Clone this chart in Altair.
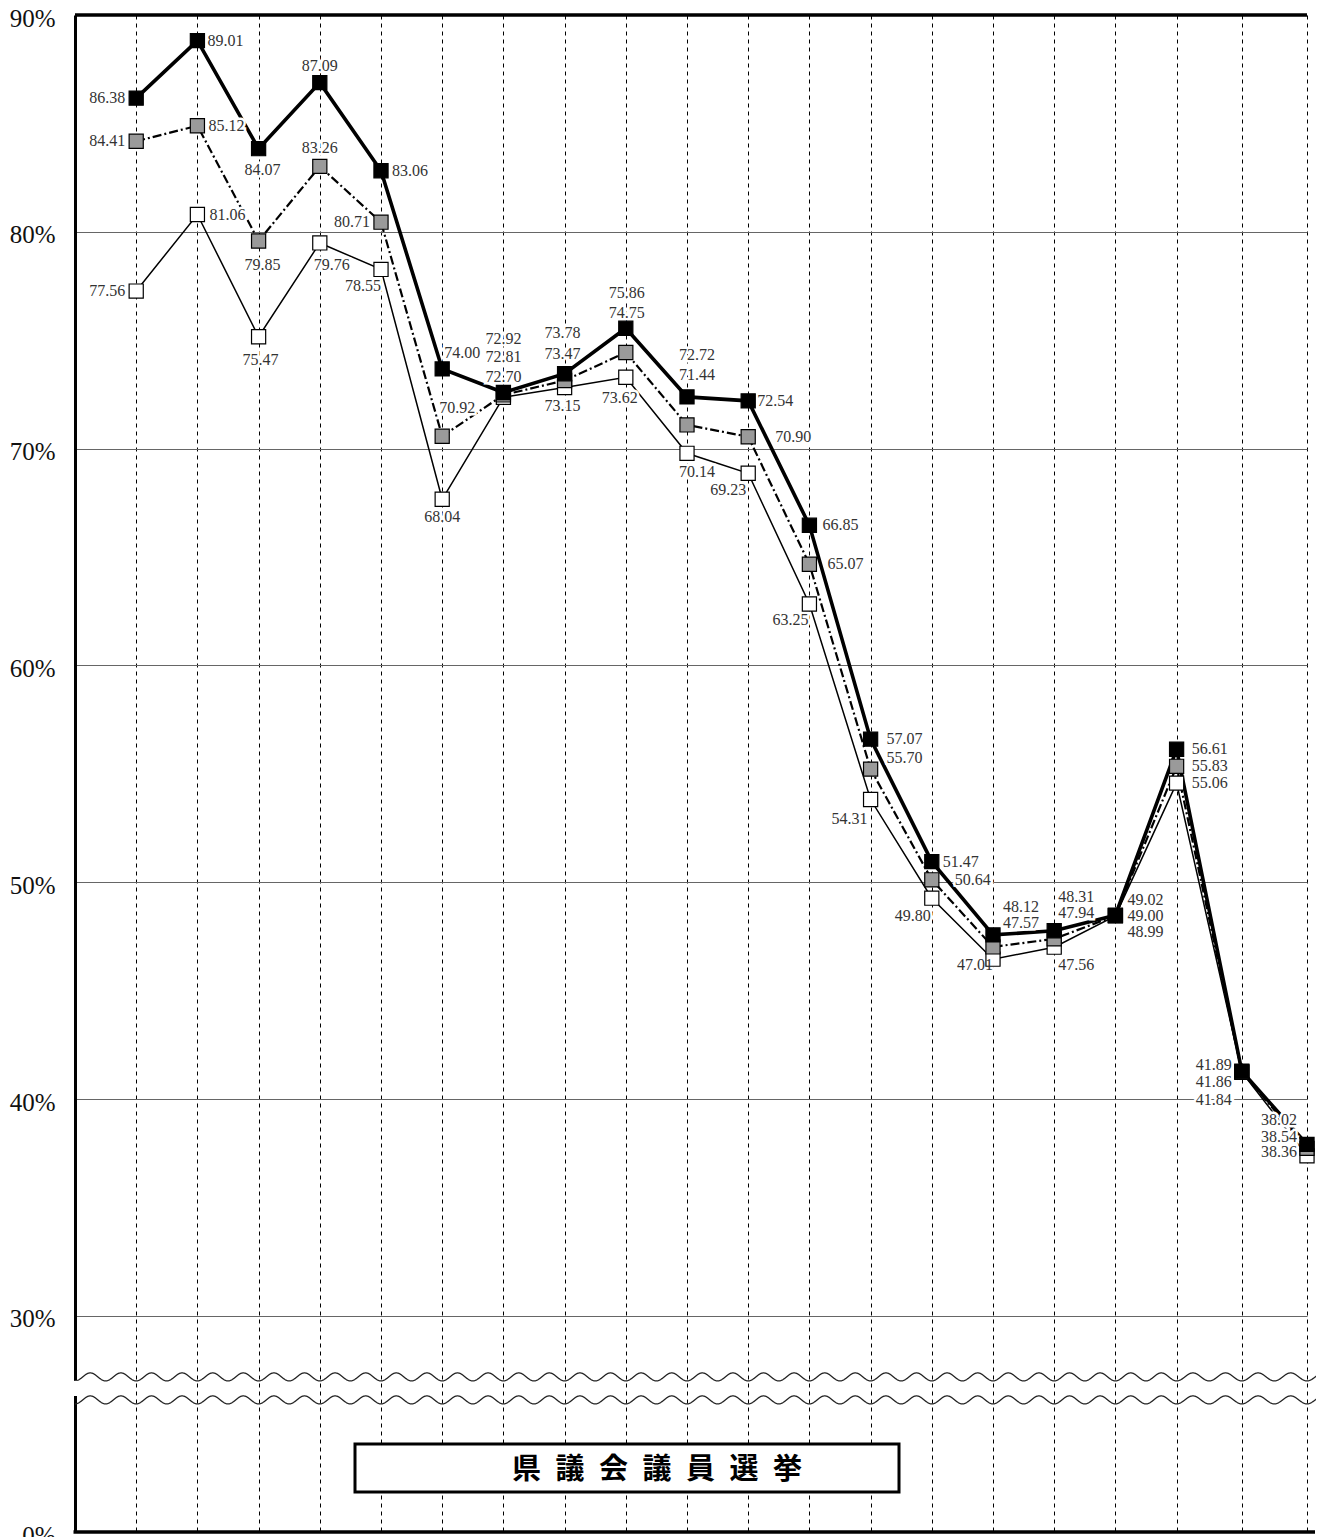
import altair as alt
import numpy as np
import pandas as pd

# ---------------- data ----------------
election_no = list(range(1, 21))          # 20 prefectural-assembly elections
series_names = ["男", "男女計", "女"]
male = [86.38, 89.01, 84.07, 87.09, 83.06, 74.00, 72.92, 73.78, 75.86, 72.72,
        72.54, 66.85, 57.07, 51.47, 48.12, 48.31, 49.02, 56.61, 41.89, 38.54]
total = [84.41, 85.12, 79.85, 83.26, 80.71, 70.92, 72.81, 73.47, 74.75, 71.44,
         70.90, 65.07, 55.70, 50.64, 47.57, 47.94, 49.00, 55.83, 41.86, 38.36]
female = [77.56, 81.06, 75.47, 79.76, 78.55, 68.04, 72.70, 73.15, 73.62, 70.14,
          69.23, 63.25, 54.31, 49.80, 47.01, 47.56, 48.99, 55.06, 41.84, 38.02]

y_ticks = [0, 30, 40, 50, 60, 70, 80, 90]
title_text = "県議会議員選挙"

# ---------------- label placement (pixel offsets from each marker) ----------------
male_dx = [-29, 28, 4, 0, 29, 20, 0, -2, 1, 10, 27, 31, 34, 29, 28, 22, 30, 31, -28, -28]
male_dy = [0, 0, 21, -17, 0, -16, -54, -41, -35, -42, 0, 0, 0, 0, -28, -34, -15, 0, -6, -7]
total_dx = [-29, 29, 4, 0, -29, 15, 0, -2, 1, 10, 45, 36, 34, 41, 28, 22, 30, 31, -28, -28]
total_dy = [0, 0, 24, -18, 0, -28, -38, -27, -40, -50, 0, 0, -11, 0, -24, -26, 0, 0, 10, 4]
female_dx = [-29, 30, 2, 12, -18, 0, 0, -2, -6, 10, -20, -19, -21, -19, -18, 22, 30, 31, -28, -28]
female_dy = [0, 0, 23, 22, 17, 18, -20, 18, 21, 19, 17, 16, 19, 18, 6, 18, 16, 0, 28, -36]

rows = []
for name, vals, dxs, dys in [("男", male, male_dx, male_dy),
                             ("男女計", total, total_dx, total_dy),
                             ("女", female, female_dx, female_dy)]:
    for i, v, dx, dy in zip(election_no, vals, dxs, dys):
        rows.append({"s": name, "i": i, "v": v, "label": f"{v:.2f}", "dx": dx, "dy": dy})
df = pd.DataFrame(rows)

# ---------------- geometry ----------------
W, H = 1232, 1517
x_scale = alt.Scale(domain=[0, 18, 20], range=[0, 1101.6, 1232], nice=False, zero=False)
grid_scale = alt.Scale(domain=[0, 25, 90], range=[H, 1409.2, 0], nice=False, zero=False)
data_scale = alt.Scale(domain=[30, 90], range=[1316.2, 4], nice=False, zero=False)

x_axis = alt.Axis(values=election_no, grid=True, gridDash=[4, 4], gridColor="black",
                  gridWidth=1, gridOpacity=1, labels=False, ticks=False, domain=False, title=None)
y_axis = alt.Axis(values=y_ticks, labelExpr="datum.value + '%'", grid=True,
                  gridColor="#666666", gridWidth=1.2, gridOpacity=1, ticks=False,
                  domain=True, domainColor="black", domainWidth=3, labelFont="Liberation Serif",
                  labelFontSize=25, labelColor="#111111", labelPadding=20, labelOffset=3,
                  title=None)

X = alt.X("x:Q", scale=x_scale, axis=x_axis)

# ---- axis-break wavy lines (decoration only) ----
wx = np.linspace(0, 20.3, 2031)
wave_df = pd.concat([
    pd.DataFrame({"x": wx, "y": 27.18 - 0.185 * np.cos(4 * np.pi * wx), "w": "a"}),
    pd.DataFrame({"x": wx, "y": 26.12 - 0.185 * np.cos(4 * np.pi * wx), "w": "b"}),
])
waves = alt.Chart(wave_df).mark_line(color="#222222", strokeWidth=1.3).encode(
    x=X, y=alt.Y("y:Q", scale=grid_scale, axis=y_axis), detail="w:N")

gap = alt.Chart(pd.DataFrame({"y1": [27.0], "y2": [26.3]})).mark_rule(
    color="white", strokeWidth=7).encode(
    x=alt.value(0), y=alt.Y("y1:Q", scale=grid_scale, axis=y_axis), y2="y2:Q")

one = pd.DataFrame({"t": [title_text]})
top_rule = alt.Chart(one).mark_rule(color="black", strokeWidth=3.5).encode(
    x=alt.value(0), x2=alt.value(W), y=alt.value(0))
bottom_rule = alt.Chart(one).mark_rule(color="black", strokeWidth=3.5).encode(
    x=alt.value(-1.5), x2=alt.value(W + 8), y=alt.value(H))
box = alt.Chart(one).mark_rect(fill="white", stroke="black", strokeWidth=3).encode(
    x=alt.value(280), x2=alt.value(824), y=alt.value(1429), y2=alt.value(1477))
title = alt.Chart(one).transform_calculate(
    tt="join(split(datum.t, ''), '\u2002')").mark_text(
    font="Noto Sans CJK JP", fontSize=29, fontWeight="bold", color="black",
    align="center", baseline="middle").encode(
    x=alt.value(582), y=alt.value(1455), text="tt:N")

grid_group = alt.layer(waves, gap, top_rule, bottom_rule, box, title)

# ---- data layers ----
Xd = alt.X("i:Q", scale=x_scale, axis=x_axis)
Yd = alt.Y("v:Q", scale=data_scale, axis=None)

def sel(name):
    return alt.Chart(df).transform_filter(alt.datum.s == name)

line_f = sel("女").mark_line(color="black", strokeWidth=1.5).encode(x=Xd, y=Yd, order="i:Q")
line_t = sel("男女計").mark_line(color="black", strokeWidth=2.2, strokeDash=[9, 3, 2, 3]).encode(
    x=Xd, y=Yd, order="i:Q")
line_m = sel("男").mark_line(color="black", strokeWidth=3.6).encode(x=Xd, y=Yd, order="i:Q")

lab = alt.Chart(df).transform_calculate(
    lx="datum.i + datum.dx / (datum.i > 18 ? 65 : 61.2)",
    ly="datum.v - datum.dy / 21.87")
LX = alt.X("lx:Q", scale=x_scale, axis=x_axis)
LY = alt.Y("ly:Q", scale=data_scale, axis=None)
halo = lab.mark_text(font="Liberation Serif", fontSize=16, fill="white", stroke="white",
                     strokeWidth=5, align="center", baseline="middle").encode(
    x=LX, y=LY, text="label:N")
texts = lab.mark_text(font="Liberation Serif", fontSize=16, color="#333333",
                      align="center", baseline="middle").encode(
    x=LX, y=LY, text="label:N")

def pts(name, fill):
    return sel(name).mark_square(filled=True, fill=fill, stroke="black", strokeWidth=1.2,
                                 size=200, opacity=1).encode(x=Xd, y=Yd)

data_group = alt.layer(line_f, line_t, line_m, halo,
                       pts("女", "white"), pts("男女計", "#9a9a9a"), pts("男", "black"),
                       texts)

chart = alt.layer(grid_group, data_group).resolve_scale(y="independent").properties(
    width=W, height=H,
    padding={"left": 67, "top": 7, "right": 9, "bottom": 14},
    autosize=alt.AutoSizeParams(type="none"),
).configure_view(stroke=None)

chart.save("out.html", embed_options={"renderer": "svg", "actions": False})
